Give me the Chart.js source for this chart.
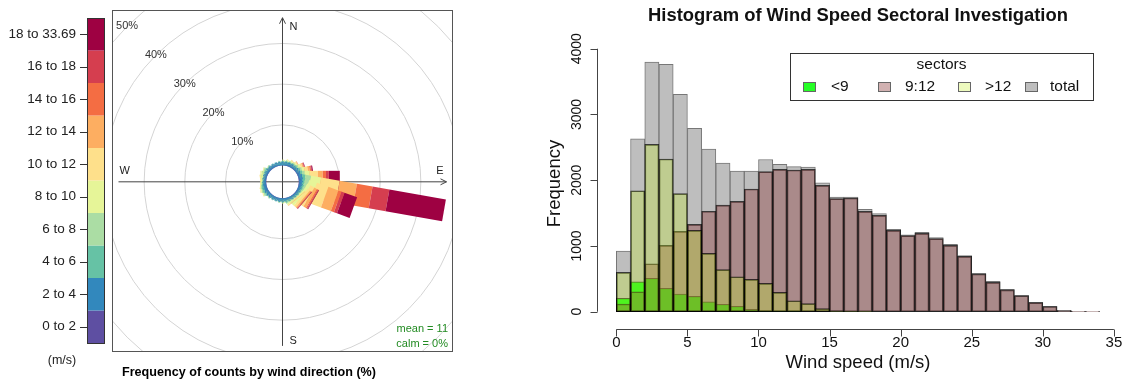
<!DOCTYPE html>
<html>
<head>
<title>Wind rose and wind speed histogram</title>
<script src="https://cdn.jsdelivr.net/npm/chart.js"></script>
<style>
  body { margin: 0; background: #fff; }
  #rose { position: absolute; left: 0; top: 0; }
  #hist { position: absolute; left: 540px; top: 0; }
</style>
</head>
<body>
<canvas id="rose" width="540" height="383"></canvas>
<canvas id="hist" width="586" height="383"></canvas>
<script>
// ---------- wind rose data (% of counts, per direction and speed class) ----------
var directions = [10,20,30,40,50,60,70,80,90,100,110,120,130,140,150,160,170,180,
                  190,200,210,220,230,240,250,260,270,280,290,300,310,320,330,340,350,360];
var speedLabels = ['0 to 2','2 to 4','4 to 6','6 to 8','8 to 10','10 to 12',
                   '12 to 14','14 to 16','16 to 18','18 to 33.69'];
var speedColors = ['#5E4FA2','#3288BD','#66C2A5','#ABDDA4','#E6F598','#FEE08B',
                   '#FDAE61','#F46D43','#D53E4F','#9E0142'];
var f0to2   = [.06,.06,.06,.06,.06,.06,.06,.08,.08,.10,.08,.06,.06,.06,.06,.06,.06,.06,.06,.06,.06,.06,.06,.06,.06,.06,.06,.06,.06,.06,.06,.06,.06,.06,.06,.06];
var f2to4   = [.20,.20,.20,.20,.20,.20,.22,.28,.30,.40,.35,.28,.25,.22,.20,.20,.20,.20,.20,.20,.20,.20,.20,.20,.25,.28,.30,.28,.25,.20,.20,.20,.20,.20,.20,.20];
var f4to6   = [.05,.15,.20,.25,.25,.25,.30,.40,.40,.80,.60,.45,.40,.30,.20,.15,.05,.05,.05,.05,.05,.10,.10,.15,.20,.35,.40,.35,.20,.10,.05,.05,.05,.05,.05,.05];
var f6to8   = [0,.10,.20,.25,.25,.30,.35,.45,.70,1.4,1.0,.70,.50,.30,.15,.10,0,0,0,0,0,.05,.05,.05,.10,.30,.35,.30,.15,.05,0,0,0,0,0,0];
var f8to10  = [0,.05,.15,.20,.25,.30,.45,.60,1.2,2.5,2.0,.90,.70,.30,.10,.05,0,0,0,0,0,0,0,0,.05,.20,.25,.20,.05,0,0,0,0,0,0,0];
var f10to12 = [0,0,.05,.10,.15,.25,.45,.80,2.0,4.6,3.0,1.1,.60,.20,.05,0,0,0,0,0,0,0,0,0,0,.10,.10,.05,0,0,0,0,0,0,0,0];
var f12to14 = [0,0,0,0,.05,.10,.25,.50,1.2,4.3,2.6,.70,.30,.10,0,0,0,0,0,0,0,0,0,0,0,0,0,0,0,0,0,0,0,0,0,0];
var f14to16 = [0,0,0,0,0,.05,.15,.30,.80,3.9,.80,.30,.15,0,0,0,0,0,0,0,0,0,0,0,0,0,0,0,0,0,0,0,0,0,0,0];
var f16to18 = [0,0,0,0,0,0,.15,.20,.70,4.2,.80,.20,.10,0,0,0,0,0,0,0,0,0,0,0,0,0,0,0,0,0,0,0,0,0,0,0];
var f18plus = [0,0,0,0,0,0,.10,.25,2.7,14.1,3.3,.15,.10,0,0,0,0,0,0,0,0,0,0,0,0,0,0,0,0,0,0,0,0,0,0,0];
var speedSeries = [f0to2,f2to4,f4to6,f6to8,f8to10,f10to12,f12to14,f14to16,f16to18,f18plus];
var ringPct = [10, 20, 30, 40, 50];
var meanSpeed = 11;
var calmPct = 0;

// ---------- histogram data (counts per 1 m/s bin, 0..34) ----------
var binStart = [0,1,2,3,4,5,6,7,8,9,10,11,12,13,14,15,16,17,18,19,20,21,22,23,24,25,26,27,28,29,30,31,32,33];
var totalCounts = [923,2631,3797,3762,3306,2789,2475,2261,2140,2140,2315,2241,2206,2201,1962,1744,1744,1557,1491,1253,1171,1207,1126,1025,852,584,462,340,249,143,82,21,4,1];
var sec9to12   = [117,304,730,1009,1222,1328,1528,1622,1678,1866,2130,2166,2155,2166,1922,1719,1729,1527,1466,1238,1156,1192,1111,1010,842,574,447,332,243,139,79,19,3,1];
var secOver12  = [598,1840,2545,2322,1795,1237,888,639,532,492,432,295,167,122,46,14,6,2,0,0,0,0,0,0,0,0,0,0,0,0,0,0,0,0];
var secUnder9  = [203,456,507,355,269,233,152,112,81,35,15,5,2,0,0,0,0,0,0,0,0,0,0,0,0,0,0,0,0,0,0,0,0,0];
var xTicks = [0,5,10,15,20,25,30,35];
var yTicks = [0,1000,2000,3000,4000];

Chart.defaults.font.family = '"Liberation Sans", Arial, sans-serif';
var FONT = '"Liberation Sans", Arial, sans-serif';

// ================= wind rose =================
var hole = 4;        // empty centre, in % units
var paddle = 2.7;    // half width of a paddle, in % units

var rosePlugin = {
  id: 'rosePlugin',
  afterDraw: function (chart) {
    var ctx = chart.ctx, a = chart.chartArea;
    var sx = chart.scales.x, sy = chart.scales.y;
    var cx = sx.getPixelForValue(0), cy = sy.getPixelForValue(0);
    var unit = sx.getPixelForValue(1) - cx;
    var maxTot = 0;
    directions.forEach(function (d, i) {
      var t = 0;
      speedSeries.forEach(function (s) { t += s[i]; });
      if (t > maxTot) maxTot = t;
    });
    var L = hole + maxTot;

    ctx.save();
    ctx.beginPath();
    ctx.rect(a.left, a.top, a.right - a.left, a.bottom - a.top);
    ctx.clip();

    // grid circles
    ctx.strokeStyle = '#d4d4d4';
    ctx.lineWidth = 1;
    ringPct.forEach(function (p) {
      ctx.beginPath();
      ctx.arc(cx, cy, (hole + p) * unit, 0, Math.PI * 2);
      ctx.stroke();
    });
    ctx.fillStyle = '#333';
    ctx.font = '11px ' + FONT;
    ctx.textAlign = 'center';
    ctx.textBaseline = 'middle';
    ringPct.forEach(function (p) {
      var r = (hole + p) * Math.SQRT1_2;
      ctx.fillText(p + '%', sx.getPixelForValue(-r), sy.getPixelForValue(r));
    });

    // axes with arrows
    ctx.strokeStyle = '#444';
    ctx.beginPath();
    ctx.moveTo(sx.getPixelForValue(-L), cy); ctx.lineTo(sx.getPixelForValue(L), cy);
    ctx.moveTo(cx, sy.getPixelForValue(-L)); ctx.lineTo(cx, sy.getPixelForValue(L));
    var ex = sx.getPixelForValue(L), ny = sy.getPixelForValue(L);
    ctx.moveTo(ex - 6, cy - 3); ctx.lineTo(ex, cy); ctx.lineTo(ex - 6, cy + 3);
    ctx.moveTo(cx - 3, ny + 6); ctx.lineTo(cx, ny); ctx.lineTo(cx + 3, ny + 6);
    ctx.stroke();

    // paddles
    directions.forEach(function (d, i) {
      var th = d * Math.PI / 180, s = Math.sin(th), c = Math.cos(th);
      var cum = 0;
      speedSeries.forEach(function (ser, k) {
        var v = ser[i];
        if (!v) return;
        var l1 = hole + cum, l2 = hole + cum + v;
        cum += v;
        var pts = [[l1 * s - paddle * c, l1 * c + paddle * s],
                   [l1 * s + paddle * c, l1 * c - paddle * s],
                   [l2 * s + paddle * c, l2 * c - paddle * s],
                   [l2 * s - paddle * c, l2 * c + paddle * s]];
        ctx.beginPath();
        pts.forEach(function (p, j) {
          var X = sx.getPixelForValue(p[0]), Y = sy.getPixelForValue(p[1]);
          if (j) ctx.lineTo(X, Y); else ctx.moveTo(X, Y);
        });
        ctx.closePath();
        ctx.fillStyle = speedColors[k];
        ctx.fill();
      });
    });

    // compass letters
    ctx.fillStyle = '#222';
    ctx.font = '11px ' + FONT;
    ctx.textAlign = 'left';
    ctx.fillText('N', cx + 7, ny + 9);
    ctx.fillText('S', cx + 7, sy.getPixelForValue(-L) - 5);
    ctx.fillText('W', sx.getPixelForValue(-L) + 1, cy - 11);
    ctx.textAlign = 'right';
    ctx.fillText('E', ex - 3, cy - 11);

    // mean / calm
    ctx.fillStyle = '#228B22';
    ctx.font = '11px ' + FONT;
    ctx.fillText('mean = ' + meanSpeed, a.right - 5, a.bottom - 23);
    ctx.fillText('calm = ' + calmPct + '%', a.right - 5, a.bottom - 8);
    ctx.restore();

    // box
    ctx.save();
    ctx.strokeStyle = '#555';
    ctx.lineWidth = 1;
    ctx.strokeRect(Math.round(a.left) + 0.5, Math.round(a.top) + 0.5,
                   Math.round(a.right - a.left) - 1, Math.round(a.bottom - a.top) - 1);

    // colour key
    var kx = 87, kw = 17, ktop = 18, kh = 32.5;
    ctx.font = '13.5px ' + FONT;
    ctx.textAlign = 'right';
    ctx.textBaseline = 'middle';
    speedLabels.forEach(function (lab, k) {
      var y0 = ktop + (speedLabels.length - 1 - k) * kh;
      ctx.fillStyle = speedColors[k];
      ctx.fillRect(kx, y0, kw, kh);
      ctx.strokeStyle = '#333';
      ctx.beginPath();
      ctx.moveTo(80, Math.round(y0 + kh / 2) + 0.5);
      ctx.lineTo(kx, Math.round(y0 + kh / 2) + 0.5);
      ctx.stroke();
      ctx.fillStyle = '#222';
      ctx.fillText(lab, 76, y0 + kh / 2);
    });
    ctx.strokeStyle = '#333';
    ctx.strokeRect(kx + 0.5, ktop + 0.5, kw, kh * speedLabels.length);
    ctx.textAlign = 'center';
    ctx.font = '12.5px ' + FONT;
    ctx.fillText('(m/s)', 62, 361);

    // title
    ctx.font = 'bold 12.6px ' + FONT;
    ctx.fillStyle = '#000';
    ctx.fillText('Frequency of counts by wind direction (%)', 249, 373);
    ctx.restore();
  }
};

new Chart(document.getElementById('rose'), {
  type: 'scatter',
  data: { datasets: [{ data: [], pointRadius: 0 }] },
  options: {
    responsive: false,
    animation: false,
    layout: { padding: { left: 112, right: 87, top: 10, bottom: 31 } },
    scales: {
      x: { type: 'linear', min: -41.9, max: 41.9, display: false },
      y: { type: 'linear', min: -41.8, max: 42.2, display: false }
    },
    plugins: { legend: { display: false }, tooltip: { enabled: false } }
  },
  plugins: [rosePlugin]
});

// ================= histogram =================
function pts(arr) {
  return arr.map(function (v, i) { return { x: binStart[i] + 0.5, y: v }; });
}

var sectorNames = ['<9', '9:12', '>12', 'total'];
var sectorFill = ['rgba(0,255,0,0.85)', 'rgba(140,60,60,0.4)', 'rgba(197,240,40,0.3)', '#bebebe'];

var histPlugin = {
  id: 'histPlugin',
  afterDraw: function (chart) {
    var ctx = chart.ctx, a = chart.chartArea;
    var sx = chart.scales.x, sy = chart.scales.y;
    ctx.save();
    ctx.strokeStyle = '#444';
    ctx.lineWidth = 1;
    ctx.fillStyle = '#111';

    // x axis
    var ay = Math.round(a.bottom) + 0.5;
    ctx.beginPath();
    ctx.moveTo(sx.getPixelForValue(xTicks[0]), ay);
    ctx.lineTo(sx.getPixelForValue(xTicks[xTicks.length - 1]), ay);
    xTicks.forEach(function (t) {
      var X = Math.round(sx.getPixelForValue(t)) + 0.5;
      ctx.moveTo(X, ay); ctx.lineTo(X, ay + 7);
    });
    ctx.stroke();
    ctx.font = '15px ' + FONT;
    ctx.textAlign = 'center';
    ctx.textBaseline = 'middle';
    xTicks.forEach(function (t) {
      ctx.fillText(String(t), sx.getPixelForValue(t), ay + 13);
    });

    // y axis
    var ax = Math.round(a.left) + 0.5;
    ctx.beginPath();
    ctx.moveTo(ax, sy.getPixelForValue(yTicks[0]));
    ctx.lineTo(ax, sy.getPixelForValue(yTicks[yTicks.length - 1]));
    yTicks.forEach(function (t) {
      var Y = Math.round(sy.getPixelForValue(t)) + 0.5;
      ctx.moveTo(ax, Y); ctx.lineTo(ax - 7, Y);
    });
    ctx.stroke();
    ctx.font = '14px ' + FONT;
    yTicks.forEach(function (t) {
      ctx.save();
      ctx.translate(ax - 20, sy.getPixelForValue(t));
      ctx.rotate(-Math.PI / 2);
      ctx.fillText(String(t), 0, 0);
      ctx.restore();
    });

    // titles
    ctx.font = '18.5px ' + FONT;
    ctx.fillText('Wind speed (m/s)', (a.left + a.right) / 2, 363);
    ctx.save();
    ctx.translate(15, (a.top + a.bottom) / 2);
    ctx.rotate(-Math.PI / 2);
    ctx.fillText('Frequency', 0, 0);
    ctx.restore();
    ctx.font = 'bold 18.4px ' + FONT;
    ctx.fillText('Histogram of Wind Speed Sectoral Investigation', (a.left + a.right) / 2, 16);

    // legend
    var lx = 250, ly = 53, lw = 303, lh = 47;
    ctx.fillStyle = '#fff';
    ctx.fillRect(lx, ly, lw, lh);
    ctx.strokeStyle = '#333';
    ctx.strokeRect(lx + 0.5, ly + 0.5, lw, lh);
    ctx.fillStyle = '#111';
    ctx.font = '15.5px ' + FONT;
    ctx.fillText('sectors', lx + lw / 2, ly + 12);
    var sw = [263, 338, 418, 485];
    var tx = [291, 365, 445, 510];
    ctx.textAlign = 'left';
    sectorNames.forEach(function (n, i) {
      ctx.fillStyle = sectorFill[i];
      ctx.fillRect(sw[i], ly + 29, 12, 9);
      ctx.strokeStyle = '#666';
      ctx.strokeRect(sw[i] + 0.5, ly + 29.5, 12, 9);
      ctx.fillStyle = '#111';
      ctx.fillText(n, tx[i], ly + 34);
    });
    ctx.restore();
  }
};

new Chart(document.getElementById('hist'), {
  type: 'bar',
  data: {
    datasets: [
      { label: '>12', data: pts(secOver12), backgroundColor: sectorFill[2], borderColor: 'rgba(0,0,0,0.7)', order: 1 },
      { label: '9:12', data: pts(sec9to12), backgroundColor: sectorFill[1], borderColor: 'rgba(0,0,0,0.7)', order: 2 },
      { label: '<9', data: pts(secUnder9), backgroundColor: sectorFill[0], borderColor: 'rgba(0,0,0,0.7)', order: 3 },
      { label: 'total', data: pts(totalCounts), backgroundColor: sectorFill[3], borderColor: '#777', order: 4 }
    ]
  },
  options: {
    responsive: false,
    animation: false,
    layout: { padding: { left: 57, right: 7, top: 38, bottom: 54 } },
    datasets: {
      bar: { grouped: false, barPercentage: 1, categoryPercentage: 1, borderWidth: 1, borderSkipped: false }
    },
    scales: {
      x: { type: 'linear', offset: false, min: -1.36, max: 35.36, display: false },
      y: { min: -263, max: 4163, display: false }
    },
    plugins: { legend: { display: false }, tooltip: { enabled: false } }
  },
  plugins: [histPlugin]
});
</script>
</body>
</html>
